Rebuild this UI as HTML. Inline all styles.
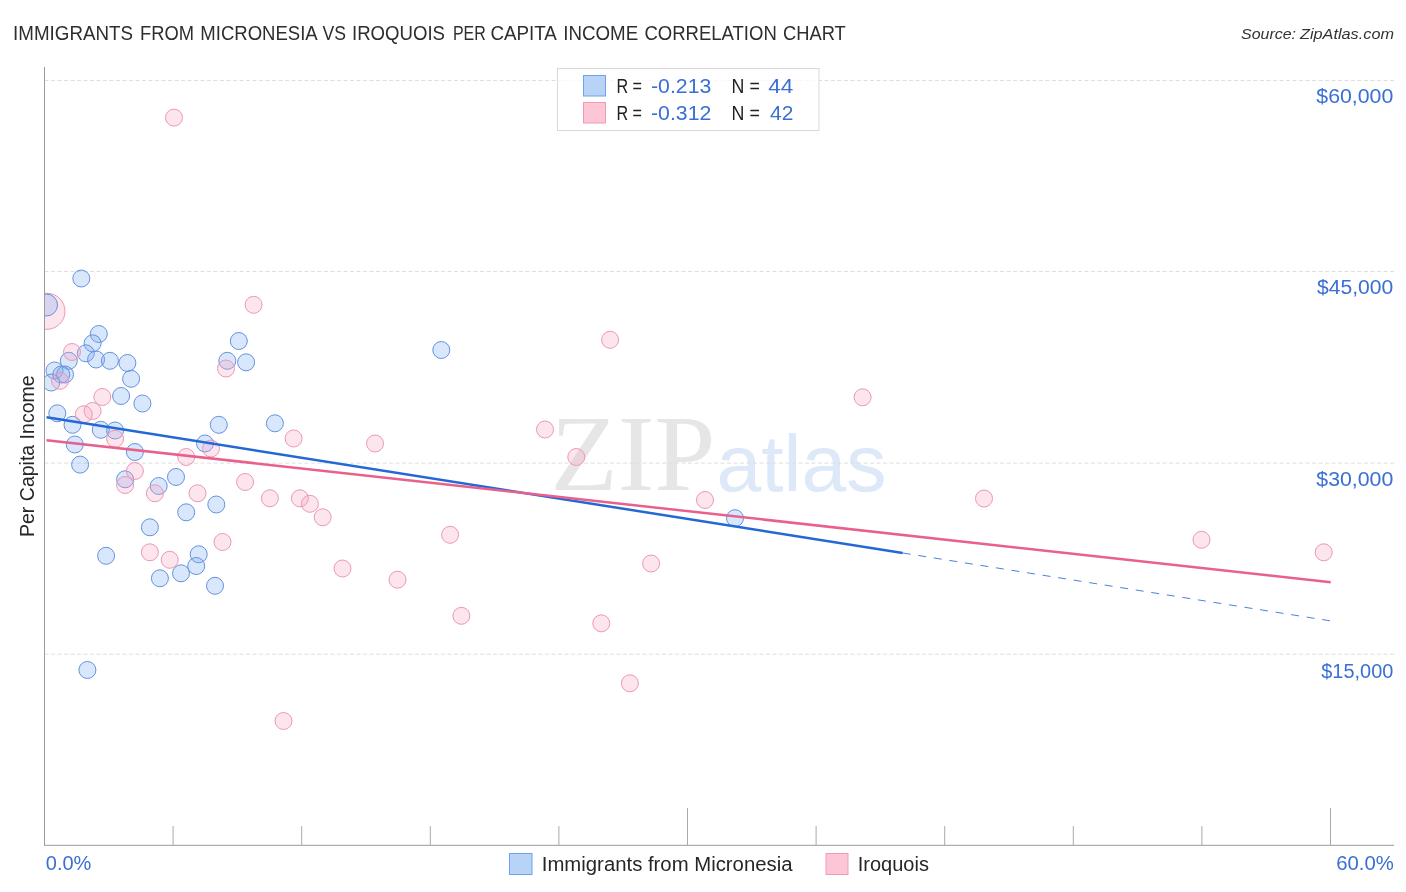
<!DOCTYPE html>
<html><head><meta charset="utf-8"><title>Immigrants from Micronesia vs Iroquois Per Capita Income Correlation Chart</title>
<style>
html,body{margin:0;padding:0;background:#fff;}
body{width:1406px;height:892px;overflow:hidden;}
svg{display:block;}
text{font-family:"Liberation Sans",sans-serif;}
.lbl{fill:#3a6fd4;font-size:19.4px;}
.ttl{fill:#2e2e2e;font-size:20px;}
</style></head><body>
<svg width="1406" height="892" viewBox="0 0 1406 892">
<rect width="1406" height="892" fill="#fff"/>

<text x="550.5" y="490" font-size="107" style="font-family:'Liberation Serif',serif" fill="#e6e6e6" textLength="165" lengthAdjust="spacingAndGlyphs">ZIP</text>
<text x="716.5" y="490.5" font-size="79" fill="#dde8f8" textLength="170" lengthAdjust="spacingAndGlyphs">atlas</text>
<line x1="44.5" y1="80.5" x2="1394" y2="80.5" stroke="#dedede" stroke-width="1" stroke-dasharray="4 2.5"/>
<line x1="44.5" y1="271.5" x2="1394" y2="271.5" stroke="#dedede" stroke-width="1" stroke-dasharray="4 2.5"/>
<line x1="44.5" y1="463.1" x2="1394" y2="463.1" stroke="#dedede" stroke-width="1" stroke-dasharray="4 2.5"/>
<line x1="44.5" y1="654.2" x2="1394" y2="654.2" stroke="#dedede" stroke-width="1" stroke-dasharray="4 2.5"/>
<defs><clipPath id="cp"><rect x="45" y="60" width="1349" height="785"/></clipPath></defs>
<g clip-path="url(#cp)">
<circle cx="47" cy="311.3" r="18" fill="rgba(248,160,195,0.28)" stroke="#ec98b2" stroke-width="1"/>
<circle cx="46.5" cy="305" r="11" fill="rgba(120,170,245,0.28)" stroke="#6592dd" stroke-width="1"/>
<circle cx="81.3" cy="278.5" r="8.5" fill="rgba(120,170,245,0.28)" stroke="#6592dd" stroke-width="1"/>
<circle cx="98.8" cy="334" r="8.5" fill="rgba(120,170,245,0.28)" stroke="#6592dd" stroke-width="1"/>
<circle cx="92.6" cy="343.3" r="8.5" fill="rgba(120,170,245,0.28)" stroke="#6592dd" stroke-width="1"/>
<circle cx="85.8" cy="353.3" r="8.5" fill="rgba(120,170,245,0.28)" stroke="#6592dd" stroke-width="1"/>
<circle cx="96.1" cy="359.5" r="8.5" fill="rgba(120,170,245,0.28)" stroke="#6592dd" stroke-width="1"/>
<circle cx="109.9" cy="360.8" r="8.5" fill="rgba(120,170,245,0.28)" stroke="#6592dd" stroke-width="1"/>
<circle cx="127.4" cy="363" r="8.5" fill="rgba(120,170,245,0.28)" stroke="#6592dd" stroke-width="1"/>
<circle cx="68.8" cy="360.8" r="8.5" fill="rgba(120,170,245,0.28)" stroke="#6592dd" stroke-width="1"/>
<circle cx="54.5" cy="370.5" r="8.5" fill="rgba(120,170,245,0.28)" stroke="#6592dd" stroke-width="1"/>
<circle cx="65" cy="374.5" r="8.5" fill="rgba(120,170,245,0.28)" stroke="#6592dd" stroke-width="1"/>
<circle cx="61.3" cy="374.5" r="8.5" fill="rgba(120,170,245,0.28)" stroke="#6592dd" stroke-width="1"/>
<circle cx="51.3" cy="382.5" r="8.5" fill="rgba(120,170,245,0.28)" stroke="#6592dd" stroke-width="1"/>
<circle cx="131.1" cy="378.8" r="8.5" fill="rgba(120,170,245,0.28)" stroke="#6592dd" stroke-width="1"/>
<circle cx="121.1" cy="396" r="8.5" fill="rgba(120,170,245,0.28)" stroke="#6592dd" stroke-width="1"/>
<circle cx="142.4" cy="403.5" r="8.5" fill="rgba(120,170,245,0.28)" stroke="#6592dd" stroke-width="1"/>
<circle cx="238.8" cy="341" r="8.5" fill="rgba(120,170,245,0.28)" stroke="#6592dd" stroke-width="1"/>
<circle cx="227.3" cy="360.8" r="8.5" fill="rgba(120,170,245,0.28)" stroke="#6592dd" stroke-width="1"/>
<circle cx="246.1" cy="362.3" r="8.5" fill="rgba(120,170,245,0.28)" stroke="#6592dd" stroke-width="1"/>
<circle cx="57.3" cy="413.3" r="8.5" fill="rgba(120,170,245,0.28)" stroke="#6592dd" stroke-width="1"/>
<circle cx="72.5" cy="424.8" r="8.5" fill="rgba(120,170,245,0.28)" stroke="#6592dd" stroke-width="1"/>
<circle cx="100.8" cy="429.8" r="8.5" fill="rgba(120,170,245,0.28)" stroke="#6592dd" stroke-width="1"/>
<circle cx="115.1" cy="430.5" r="8.5" fill="rgba(120,170,245,0.28)" stroke="#6592dd" stroke-width="1"/>
<circle cx="218.8" cy="424.8" r="8.5" fill="rgba(120,170,245,0.28)" stroke="#6592dd" stroke-width="1"/>
<circle cx="274.9" cy="423.3" r="8.5" fill="rgba(120,170,245,0.28)" stroke="#6592dd" stroke-width="1"/>
<circle cx="74.8" cy="444.5" r="8.5" fill="rgba(120,170,245,0.28)" stroke="#6592dd" stroke-width="1"/>
<circle cx="134.9" cy="452" r="8.5" fill="rgba(120,170,245,0.28)" stroke="#6592dd" stroke-width="1"/>
<circle cx="205" cy="443.5" r="8.5" fill="rgba(120,170,245,0.28)" stroke="#6592dd" stroke-width="1"/>
<circle cx="80.1" cy="464.6" r="8.5" fill="rgba(120,170,245,0.28)" stroke="#6592dd" stroke-width="1"/>
<circle cx="125.1" cy="479.3" r="8.5" fill="rgba(120,170,245,0.28)" stroke="#6592dd" stroke-width="1"/>
<circle cx="158.7" cy="486" r="8.5" fill="rgba(120,170,245,0.28)" stroke="#6592dd" stroke-width="1"/>
<circle cx="176" cy="477" r="8.5" fill="rgba(120,170,245,0.28)" stroke="#6592dd" stroke-width="1"/>
<circle cx="216.3" cy="504.5" r="8.5" fill="rgba(120,170,245,0.28)" stroke="#6592dd" stroke-width="1"/>
<circle cx="186.2" cy="512.3" r="8.5" fill="rgba(120,170,245,0.28)" stroke="#6592dd" stroke-width="1"/>
<circle cx="149.9" cy="527.3" r="8.5" fill="rgba(120,170,245,0.28)" stroke="#6592dd" stroke-width="1"/>
<circle cx="106.1" cy="555.8" r="8.5" fill="rgba(120,170,245,0.28)" stroke="#6592dd" stroke-width="1"/>
<circle cx="198.7" cy="554.3" r="8.5" fill="rgba(120,170,245,0.28)" stroke="#6592dd" stroke-width="1"/>
<circle cx="196.2" cy="566" r="8.5" fill="rgba(120,170,245,0.28)" stroke="#6592dd" stroke-width="1"/>
<circle cx="181" cy="573.3" r="8.5" fill="rgba(120,170,245,0.28)" stroke="#6592dd" stroke-width="1"/>
<circle cx="159.9" cy="578.3" r="8.5" fill="rgba(120,170,245,0.28)" stroke="#6592dd" stroke-width="1"/>
<circle cx="215" cy="585.8" r="8.5" fill="rgba(120,170,245,0.28)" stroke="#6592dd" stroke-width="1"/>
<circle cx="87.4" cy="670" r="8.5" fill="rgba(120,170,245,0.28)" stroke="#6592dd" stroke-width="1"/>
<circle cx="441.3" cy="350" r="8.5" fill="rgba(120,170,245,0.28)" stroke="#6592dd" stroke-width="1"/>
<circle cx="735" cy="518.2" r="8.5" fill="rgba(120,170,245,0.28)" stroke="#6592dd" stroke-width="1"/>
<circle cx="253.6" cy="304.8" r="8.5" fill="rgba(248,160,195,0.28)" stroke="#ec98b2" stroke-width="1"/>
<circle cx="72" cy="352" r="8.5" fill="rgba(248,160,195,0.28)" stroke="#ec98b2" stroke-width="1"/>
<circle cx="226" cy="368.5" r="8.5" fill="rgba(248,160,195,0.28)" stroke="#ec98b2" stroke-width="1"/>
<circle cx="60" cy="380.8" r="8.5" fill="rgba(248,160,195,0.28)" stroke="#ec98b2" stroke-width="1"/>
<circle cx="102.3" cy="397" r="8.5" fill="rgba(248,160,195,0.28)" stroke="#ec98b2" stroke-width="1"/>
<circle cx="92.6" cy="411" r="8.5" fill="rgba(248,160,195,0.28)" stroke="#ec98b2" stroke-width="1"/>
<circle cx="83.8" cy="414.3" r="8.5" fill="rgba(248,160,195,0.28)" stroke="#ec98b2" stroke-width="1"/>
<circle cx="115.1" cy="438.8" r="8.5" fill="rgba(248,160,195,0.28)" stroke="#ec98b2" stroke-width="1"/>
<circle cx="211" cy="448.5" r="8.5" fill="rgba(248,160,195,0.28)" stroke="#ec98b2" stroke-width="1"/>
<circle cx="186.2" cy="457" r="8.5" fill="rgba(248,160,195,0.28)" stroke="#ec98b2" stroke-width="1"/>
<circle cx="293.6" cy="438.5" r="8.5" fill="rgba(248,160,195,0.28)" stroke="#ec98b2" stroke-width="1"/>
<circle cx="375" cy="443.5" r="8.5" fill="rgba(248,160,195,0.28)" stroke="#ec98b2" stroke-width="1"/>
<circle cx="134.9" cy="471" r="8.5" fill="rgba(248,160,195,0.28)" stroke="#ec98b2" stroke-width="1"/>
<circle cx="125.1" cy="485" r="8.5" fill="rgba(248,160,195,0.28)" stroke="#ec98b2" stroke-width="1"/>
<circle cx="154.9" cy="493.3" r="8.5" fill="rgba(248,160,195,0.28)" stroke="#ec98b2" stroke-width="1"/>
<circle cx="197.5" cy="493.3" r="8.5" fill="rgba(248,160,195,0.28)" stroke="#ec98b2" stroke-width="1"/>
<circle cx="245.1" cy="482" r="8.5" fill="rgba(248,160,195,0.28)" stroke="#ec98b2" stroke-width="1"/>
<circle cx="269.9" cy="498.3" r="8.5" fill="rgba(248,160,195,0.28)" stroke="#ec98b2" stroke-width="1"/>
<circle cx="299.9" cy="498.3" r="8.5" fill="rgba(248,160,195,0.28)" stroke="#ec98b2" stroke-width="1"/>
<circle cx="309.9" cy="503.8" r="8.5" fill="rgba(248,160,195,0.28)" stroke="#ec98b2" stroke-width="1"/>
<circle cx="322.7" cy="517.3" r="8.5" fill="rgba(248,160,195,0.28)" stroke="#ec98b2" stroke-width="1"/>
<circle cx="222.5" cy="542" r="8.5" fill="rgba(248,160,195,0.28)" stroke="#ec98b2" stroke-width="1"/>
<circle cx="149.9" cy="552.3" r="8.5" fill="rgba(248,160,195,0.28)" stroke="#ec98b2" stroke-width="1"/>
<circle cx="169.7" cy="559.8" r="8.5" fill="rgba(248,160,195,0.28)" stroke="#ec98b2" stroke-width="1"/>
<circle cx="342.5" cy="568.5" r="8.5" fill="rgba(248,160,195,0.28)" stroke="#ec98b2" stroke-width="1"/>
<circle cx="397.5" cy="579.7" r="8.5" fill="rgba(248,160,195,0.28)" stroke="#ec98b2" stroke-width="1"/>
<circle cx="174" cy="117.6" r="8.5" fill="rgba(248,160,195,0.28)" stroke="#ec98b2" stroke-width="1"/>
<circle cx="610.1" cy="339.8" r="8.5" fill="rgba(248,160,195,0.28)" stroke="#ec98b2" stroke-width="1"/>
<circle cx="545" cy="429.5" r="8.5" fill="rgba(248,160,195,0.28)" stroke="#ec98b2" stroke-width="1"/>
<circle cx="576.3" cy="457" r="8.5" fill="rgba(248,160,195,0.28)" stroke="#ec98b2" stroke-width="1"/>
<circle cx="862.6" cy="397.3" r="8.5" fill="rgba(248,160,195,0.28)" stroke="#ec98b2" stroke-width="1"/>
<circle cx="705" cy="500" r="8.5" fill="rgba(248,160,195,0.28)" stroke="#ec98b2" stroke-width="1"/>
<circle cx="984" cy="498.5" r="8.5" fill="rgba(248,160,195,0.28)" stroke="#ec98b2" stroke-width="1"/>
<circle cx="450.1" cy="534.8" r="8.5" fill="rgba(248,160,195,0.28)" stroke="#ec98b2" stroke-width="1"/>
<circle cx="651.1" cy="563.5" r="8.5" fill="rgba(248,160,195,0.28)" stroke="#ec98b2" stroke-width="1"/>
<circle cx="1201.5" cy="539.8" r="8.5" fill="rgba(248,160,195,0.28)" stroke="#ec98b2" stroke-width="1"/>
<circle cx="1323.7" cy="552.3" r="8.5" fill="rgba(248,160,195,0.28)" stroke="#ec98b2" stroke-width="1"/>
<circle cx="461.4" cy="615.8" r="8.5" fill="rgba(248,160,195,0.28)" stroke="#ec98b2" stroke-width="1"/>
<circle cx="601.3" cy="623.3" r="8.5" fill="rgba(248,160,195,0.28)" stroke="#ec98b2" stroke-width="1"/>
<circle cx="629.9" cy="683.3" r="8.5" fill="rgba(248,160,195,0.28)" stroke="#ec98b2" stroke-width="1"/>
<circle cx="283.5" cy="721" r="8.5" fill="rgba(248,160,195,0.28)" stroke="#ec98b2" stroke-width="1"/>
</g>
<line x1="46.5" y1="417.3" x2="902.7" y2="553" stroke="#2468d6" stroke-width="2.5"/>
<line x1="902.7" y1="553" x2="1330" y2="620.8" stroke="#4a82dc" stroke-width="1" stroke-dasharray="8 7.73"/>
<line x1="46.5" y1="440.2" x2="1330.7" y2="582.3" stroke="#e8608c" stroke-width="2.5"/>
<line x1="44.5" y1="67" x2="44.5" y2="845.5" stroke="#9a9a9a" stroke-width="1"/>
<line x1="44" y1="845.3" x2="1394" y2="845.3" stroke="#9a9a9a" stroke-width="1"/>
<line x1="173.1" y1="826" x2="173.1" y2="845" stroke="#aaa" stroke-width="1"/>
<line x1="301.7" y1="826" x2="301.7" y2="845" stroke="#aaa" stroke-width="1"/>
<line x1="430.3" y1="826" x2="430.3" y2="845" stroke="#aaa" stroke-width="1"/>
<line x1="558.9" y1="826" x2="558.9" y2="845" stroke="#aaa" stroke-width="1"/>
<line x1="687.5" y1="808" x2="687.5" y2="845" stroke="#aaa" stroke-width="1"/>
<line x1="816.1" y1="826" x2="816.1" y2="845" stroke="#aaa" stroke-width="1"/>
<line x1="944.7" y1="826" x2="944.7" y2="845" stroke="#aaa" stroke-width="1"/>
<line x1="1073.3" y1="826" x2="1073.3" y2="845" stroke="#aaa" stroke-width="1"/>
<line x1="1201.9" y1="826" x2="1201.9" y2="845" stroke="#aaa" stroke-width="1"/>
<line x1="1330.5" y1="808" x2="1330.5" y2="845" stroke="#aaa" stroke-width="1"/>
<text class="lbl" x="1393.3" y="103.2" text-anchor="end" textLength="77" lengthAdjust="spacingAndGlyphs">$60,000</text>
<text class="lbl" x="1393.3" y="294.4" text-anchor="end" textLength="76.3" lengthAdjust="spacingAndGlyphs">$45,000</text>
<text class="lbl" x="1393.3" y="485.6" text-anchor="end" textLength="77" lengthAdjust="spacingAndGlyphs">$30,000</text>
<text class="lbl" x="1393.3" y="677.8" text-anchor="end" textLength="72" lengthAdjust="spacingAndGlyphs">$15,000</text>
<text class="lbl" x="45.8" y="869.6" textLength="45.6" lengthAdjust="spacingAndGlyphs">0.0%</text>
<text class="lbl" x="1393.8" y="869.6" text-anchor="end" textLength="57.6" lengthAdjust="spacingAndGlyphs">60.0%</text>
<text transform="translate(34.4 537) rotate(-90)" font-size="20" fill="#262626" textLength="161.6" lengthAdjust="spacingAndGlyphs">Per Capita Income</text>
<text class="ttl" x="13.1" y="40.2" textLength="119.9" lengthAdjust="spacingAndGlyphs">IMMIGRANTS</text>
<text class="ttl" x="140" y="40.2" textLength="54.0" lengthAdjust="spacingAndGlyphs">FROM</text>
<text class="ttl" x="200.3" y="40.2" textLength="117.4" lengthAdjust="spacingAndGlyphs">MICRONESIA</text>
<text class="ttl" x="322.4" y="40.2" textLength="23.5" lengthAdjust="spacingAndGlyphs">VS</text>
<text class="ttl" x="352" y="40.2" textLength="93.0" lengthAdjust="spacingAndGlyphs">IROQUOIS</text>
<text class="ttl" x="452.9" y="40.2" textLength="32.8" lengthAdjust="spacingAndGlyphs">PER</text>
<text class="ttl" x="490.4" y="40.2" textLength="66.4" lengthAdjust="spacingAndGlyphs">CAPITA</text>
<text class="ttl" x="563.3" y="40.2" textLength="74.9" lengthAdjust="spacingAndGlyphs">INCOME</text>
<text class="ttl" x="644.4" y="40.2" textLength="132.4" lengthAdjust="spacingAndGlyphs">CORRELATION</text>
<text class="ttl" x="783" y="40.2" textLength="62.7" lengthAdjust="spacingAndGlyphs">CHART</text>
<text x="1241" y="38.6" font-size="15" font-style="italic" fill="#333" textLength="55" lengthAdjust="spacingAndGlyphs">Source:</text>
<text x="1300" y="38.6" font-size="15" font-style="italic" fill="#333" textLength="94" lengthAdjust="spacingAndGlyphs">ZipAtlas.com</text>
<rect x="557.5" y="68.5" width="261.5" height="62" fill="#fff" fill-opacity="0.78" stroke="#d8d8d8" stroke-width="1"/>
<rect x="583.5" y="75.5" width="22" height="20.5" fill="#b9d3f7" stroke="#6fa2ea" stroke-width="1"/>
<rect x="583.5" y="102.5" width="22" height="20.5" fill="#fcc6d6" stroke="#f29ab4" stroke-width="1"/>
<text x="616.4" y="93.1" font-size="19.6" fill="#222" textLength="25.6" lengthAdjust="spacingAndGlyphs">R =</text>
<text x="651" y="93.1" font-size="19.6" fill="#3a6fd4" textLength="60.3" lengthAdjust="spacingAndGlyphs">-0.213</text>
<text x="731.6" y="93.1" font-size="19.6" fill="#222" textLength="28.2" lengthAdjust="spacingAndGlyphs">N =</text>
<text x="768.3" y="93.1" font-size="19.6" fill="#3a6fd4" textLength="25.0" lengthAdjust="spacingAndGlyphs">44</text>
<text x="616.4" y="120.2" font-size="19.6" fill="#222" textLength="25.6" lengthAdjust="spacingAndGlyphs">R =</text>
<text x="651" y="120.2" font-size="19.6" fill="#3a6fd4" textLength="60.3" lengthAdjust="spacingAndGlyphs">-0.312</text>
<text x="731.6" y="120.2" font-size="19.6" fill="#222" textLength="28.2" lengthAdjust="spacingAndGlyphs">N =</text>
<text x="770" y="120.2" font-size="19.6" fill="#3a6fd4" textLength="23.3" lengthAdjust="spacingAndGlyphs">42</text>
<rect x="509.5" y="853.5" width="22.5" height="21" fill="#b9d3f7" stroke="#6fa2ea" stroke-width="1"/>
<text x="541.8" y="871.2" font-size="20" fill="#262626" textLength="250.7" lengthAdjust="spacingAndGlyphs">Immigrants from Micronesia</text>
<rect x="826" y="853.5" width="22" height="21" fill="#fcc6d6" stroke="#f29ab4" stroke-width="1"/>
<text x="857.7" y="871.2" font-size="20" fill="#262626" textLength="71.2" lengthAdjust="spacingAndGlyphs">Iroquois</text>
</svg></body></html>
